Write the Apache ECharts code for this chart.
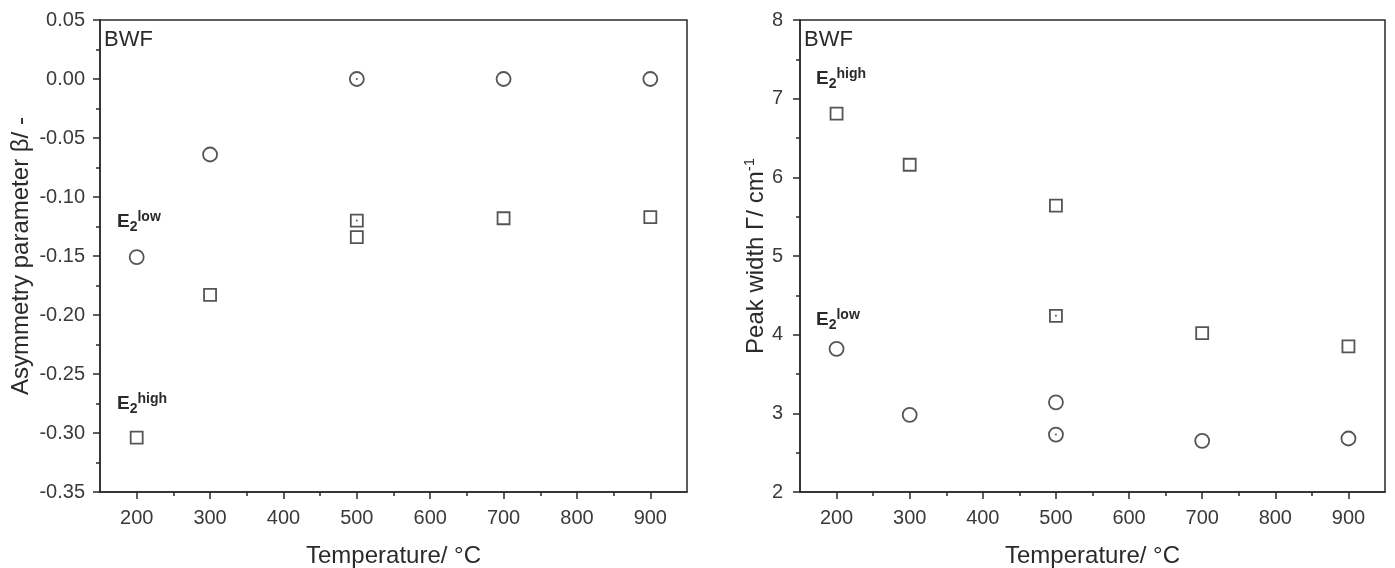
<!DOCTYPE html>
<html><head><meta charset="utf-8">
<script src="https://cdn.jsdelivr.net/npm/echarts@6/dist/echarts.min.js"></script>
<style>html,body{margin:0;padding:0;background:#fff}#c{width:1395px;height:568px}</style>
</head><body><div id="c"></div>
<script>
// ---- data ----
const xTicks = [200, 300, 400, 500, 600, 700, 800, 900];
const xMinorTicks = [250, 350, 450, 550, 650, 750, 850];
const tempLeftLow = [200, 300, 500, 700, 900];
const betaLow = [-0.151, -0.064, 0.000, 0.000, 0.000];
const tempLeftHigh = [200, 300, 500, 500, 700, 900];
const betaHigh = [-0.304, -0.183, -0.120, -0.134, -0.118, -0.117];
const tempRight = [200, 300, 500, 500, 700, 900];
const widthHigh = [6.81, 6.16, 5.64, 4.24, 4.02, 3.85];
const widthLow = [3.82, 2.98, 3.14, 2.73, 2.65, 2.68];
const dotLeftT = [500, 500];
const dotLeftV = [0.000, -0.120];
const dotRightT = [500, 500];
const dotRightV = [4.24, 2.73];

const FONT = "'Liberation Sans', Arial, sans-serif";
const INK = '#2a2a2a';
const LBL = '#3a3a3a';
const zip = (a, b) => a.map((v, i) => [v, b[i]]);

function xAxes(gi) {
  return [
    { type: 'value', gridIndex: gi, min: 150, max: 950, position: 'bottom',
      axisLine: { onZero: false, lineStyle: { color: INK, width: 1.5 } },
      axisTick: { show: true, inside: false, length: 7, customValues: xTicks, lineStyle: { color: INK, width: 1.5 } },
      axisLabel: { customValues: xTicks, color: LBL, fontSize: 20, fontFamily: FONT, margin: 16 },
      splitLine: { show: false },
      name: 'Temperature/ °C', nameLocation: 'middle', nameGap: 52,
      nameTextStyle: { fontSize: 24, color: INK, fontFamily: FONT } },
    { type: 'value', gridIndex: gi, min: 150, max: 950, position: 'bottom',
      axisLine: { show: false, onZero: false },
      axisTick: { show: true, length: 4, customValues: xMinorTicks, lineStyle: { color: INK, width: 1.5 } },
      axisLabel: { show: false }, splitLine: { show: false } }
  ];
}

const graphicTexts = [];
function e2(left, top, sup) {
  graphicTexts.push({ type: 'text', left: left, top: top, style: {
    text: '{b|E}{sub|2}{sup|' + sup + '}', fontFamily: FONT,
    rich: {
      b: { fontSize: 19, fontWeight: 'bold', fill: INK, lineHeight: 24, verticalAlign: 'middle', fontFamily: FONT },
      sub: { fontSize: 14, fontWeight: 'bold', fill: INK, lineHeight: 24, verticalAlign: 'bottom', fontFamily: FONT },
      sup: { fontSize: 14, fontWeight: 'bold', fill: INK, lineHeight: 24, verticalAlign: 'top', fontFamily: FONT }
    } } });
}
e2(117, 210, 'low');
e2(117, 392, 'high');
e2(816, 67, 'high');
e2(816, 308, 'low');
graphicTexts.push({ type: 'text', left: 104, top: 29, style: { text: 'BWF', fontSize: 22, fill: INK, fontFamily: FONT } });
graphicTexts.push({ type: 'text', left: 804, top: 29, style: { text: 'BWF', fontSize: 22, fill: INK, fontFamily: FONT } });

const openStyle = { color: 'rgba(0,0,0,0)', borderColor: INK, borderWidth: 1.8 };

const option = {
  animation: false,
  backgroundColor: '#fff',
  grid: [
    { left: 100, top: 20, width: 587, height: 472, show: true, borderColor: INK, borderWidth: 1.5, outerBoundsMode: 'none', containLabel: false },
    { left: 800, top: 20, width: 585, height: 472, show: true, borderColor: INK, borderWidth: 1.5, outerBoundsMode: 'none', containLabel: false }
  ],
  xAxis: [...xAxes(0), ...xAxes(1)],
  yAxis: [
    { type: 'value', gridIndex: 0, min: -0.35, max: 0.05, interval: 0.05,
      axisLine: { show: true, onZero: false, lineStyle: { color: INK, width: 1.5 } },
      axisTick: { show: true, length: 7, lineStyle: { color: INK, width: 1.5 } },
      minorTick: { show: true, splitNumber: 2, length: 4, lineStyle: { color: INK, width: 1.5 } },
      axisLabel: { color: LBL, fontSize: 20, fontFamily: FONT, margin: 15, formatter: v => v.toFixed(2) },
      splitLine: { show: false },
      name: 'Asymmetry parameter β/ -', nameLocation: 'middle', nameGap: 67,
      nameTextStyle: { fontSize: 24, color: INK, fontFamily: FONT } },
    { type: 'value', gridIndex: 1, min: 2, max: 8, interval: 1,
      axisLine: { show: true, onZero: false, lineStyle: { color: INK, width: 1.5 } },
      axisTick: { show: true, length: 7, lineStyle: { color: INK, width: 1.5 } },
      minorTick: { show: true, splitNumber: 2, length: 4, lineStyle: { color: INK, width: 1.5 } },
      axisLabel: { color: LBL, fontSize: 20, fontFamily: FONT, margin: 17 },
      splitLine: { show: false },
      name: 'Peak width Γ/ cm{sup|-1}', nameLocation: 'middle', nameGap: 30,
      nameTextStyle: { fontSize: 24, color: INK, fontFamily: FONT,
        rich: { sup: { fontSize: 15, color: INK, fontFamily: FONT, verticalAlign: 'top', lineHeight: 28 } } } }
  ],
  series: [
    { type: 'scatter', xAxisIndex: 0, yAxisIndex: 0, symbol: 'circle', symbolSize: 14, itemStyle: openStyle, data: zip(tempLeftLow, betaLow) },
    { type: 'scatter', xAxisIndex: 0, yAxisIndex: 0, symbol: 'rect', symbolSize: 12, itemStyle: openStyle, data: zip(tempLeftHigh, betaHigh) },
    { type: 'scatter', xAxisIndex: 0, yAxisIndex: 0, symbol: 'circle', symbolSize: 2, itemStyle: { color: INK }, data: zip(dotLeftT, dotLeftV) },
    { type: 'scatter', xAxisIndex: 2, yAxisIndex: 1, symbol: 'rect', symbolSize: 12, itemStyle: openStyle, data: zip(tempRight, widthHigh) },
    { type: 'scatter', xAxisIndex: 2, yAxisIndex: 1, symbol: 'circle', symbolSize: 14, itemStyle: openStyle, data: zip(tempRight, widthLow) },
    { type: 'scatter', xAxisIndex: 2, yAxisIndex: 1, symbol: 'circle', symbolSize: 2, itemStyle: { color: INK }, data: zip(dotRightT, dotRightV) }
  ],
  graphic: graphicTexts
};
const chart = echarts.init(document.getElementById('c'), null, { renderer: 'canvas' });
chart.setOption(option);
</script>
</body></html>
